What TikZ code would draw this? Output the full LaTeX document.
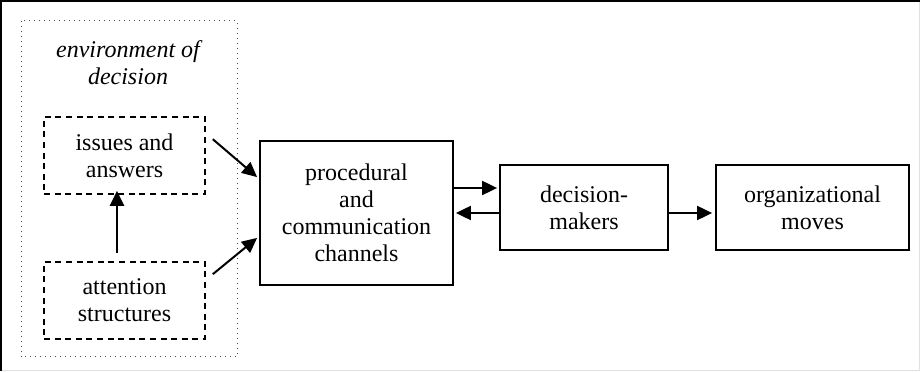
\documentclass[tikz,border=0pt]{standalone}
\usepackage{fontspec}
\setmainfont{Liberation Serif}
\newfontfamily\timesfont{Liberation Serif}
\usetikzlibrary{arrows.meta}
\tikzset{
	solidbox/.style={draw,line width=0.9pt,align=center,inner sep=0pt},
	dashbox/.style={draw,line width=0.8pt,dash pattern=on 3pt off 2.3pt,align=center,inner sep=0pt,minimum width=80.5pt,minimum height=38.5pt},
	flow/.style={line width=1pt,-{Triangle[length=7.5pt,width=7pt]}},
}
\begin{document}
\begin{tikzpicture}[x=0.5pt,y=-0.5pt,font=\timesfont\fontsize{12}{13.5}\selectfont,line join=miter]
	\useasboundingbox (0,0) rectangle (921,373);
	% frame
	\draw[black!12,line width=0.6pt] (919.5,1) -- (919.5,370.5) -- (1,370.5);
	\draw[line width=1.2pt] (1.2,371) -- (1.2,1.2) -- (920,1.2);
	% environment of decision
	\draw[black!70,line width=0.5pt,dotted] (21,21) rectangle (237,357);
	\node[align=center,font=\timesfont\fontsize{12}{13.5}\selectfont\itshape] (envlabel) at (128,63) {environment of\\decision};
	\node[dashbox] (issues) at (124.5,155.5) {issues and\\answers};
	\node[dashbox] (attention) at (124.5,300.5) {attention\\structures};
	% main chain
	\node[solidbox,minimum width=96.5pt,minimum height=72pt] (proc) at (356.5,213) {procedural\\and\\communication\\channels};
	\node[solidbox,minimum width=84pt,minimum height=42.5pt] (dec) at (584,207.5) {decision-\\makers};
	\node[solidbox,minimum width=96.5pt,minimum height=42.5pt] (org) at (812.5,207.5) {organizational\\moves};
	% connectors
	\draw[flow] ([shift={(-7.5,-8)}]attention.north) -- ([shift={(-7.5,-4)}]issues.south);
	\draw[flow] ([shift={(7,23)}]issues.north east) -- ([shift={(-2,37)}]proc.north west);
	\draw[flow] ([shift={(7,13)}]attention.north east) -- ([shift={(-2,-48)}]proc.south west);
	\draw[flow] ([yshift=12.5pt]proc.east) -- ([shift={(-2,-19.5)}]dec.west);
	\draw[flow] ([yshift=-2.75pt]dec.west) -- ([shift={(2,0)}]proc.east);
	\draw[flow] ([yshift=-2.75pt]dec.east) -- ([yshift=-2.75pt,xshift=-1.5pt]org.west);
\end{tikzpicture}
\end{document}
